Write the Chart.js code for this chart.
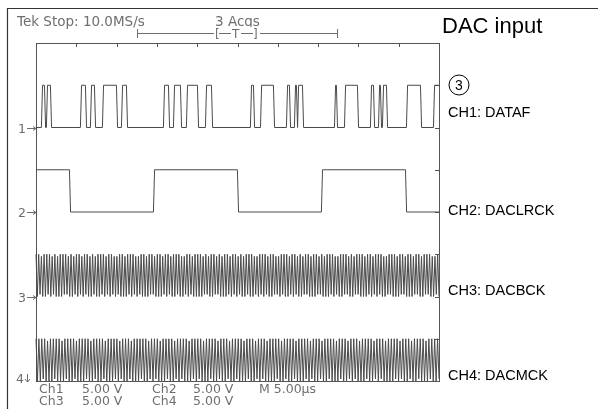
<!DOCTYPE html>
<html>
<head>
<meta charset="utf-8">
<script src="https://cdn.jsdelivr.net/npm/chart.js@4.4.1/dist/chart.umd.min.js"></script>
<style>
  html, body { margin: 0; padding: 0; background: #fff; }
  canvas { display: block; }
</style>
</head>
<body>
<canvas id="scope" width="598" height="409"></canvas>
<script>
// time axis: 10 divisions of 5 us, level axis: 8 divisions
const timeTicks = [0, 5, 10, 15, 20, 25, 30, 35, 40, 45, 50];
const levelTicks = [0, 1, 2, 3, 4, 5, 6, 7, 8];

const channelLabels = ['CH1: DATAF', 'CH2: DACLRCK', 'CH3: DACBCK', 'CH4: DACMCK'];
const channelBase = [6, 4, 2, 0]; // low level of each trace, in divisions

// CH1 edges (us), trace starts low
const ch1Edges = [0.74, 1.12, 1.36, 1.86, 5.58, 6.2, 6.82, 7.32, 8.31, 10.05, 10.67, 11.29,
  15.88, 16.5, 17.12, 17.99, 18.73, 20.1, 21.09, 21.84,
  26.67, 27.05, 27.92, 29.53, 31.14, 31.51, 32.13, 32.38, 32.51, 33.13,
  37.1, 37.34, 38.34, 39.95, 41.56, 41.94, 42.56, 42.8, 43.05, 43.55,
  46.03, 47.77, 49.38];
// CH2 edges (us), trace starts high
const ch2Edges = [4.22, 14.64, 25.06, 35.48, 45.91];

// CH3 / CH4 as shown on screen (aliased clocks), one digit per sample, 9 = top, 0 = bottom
const ch3Samples =
  '90 91 80 90 91 90 81 90 80 90 91 91 80 90 81 90 91 80 91 90 80 91 80 90 91 90 81 90 91 80 ' +
  '81 90 90 80 91 90 91 80 81 90 90 80 91 91 80 90 90 81 90 91 80 90 91 90 80 81 90 91 80 90 ' +
  '90 90 81 91 80 90 91 81 90 80 90 91 80 91 90 81 90 80 91 90 90 81 80 91 90 91 80 90 91 81 ' +
  '80 91 90 90 81 90 91 80 90 81 91 90 80 90 91 81 90 80 90 91 90 81 80 90 91 91 80 90 81 91 ' +
  '90 90 80 91 90 81 90 91 90 80 81 91 90 90 80 91 91 80 90 90 81 91 90 80 91 91 90 80 81 90';
const ch4Samples =
  '90 90 91 90 80 90 91 90 90 80 91 90 90 91 80 90 90 91 90 80 91 90 90 91 80 90 90 91 ' +
  '90 81 90 90 91 80 90 90 91 90 90 81 90 91 90 80 90 91 90 90 81 90 91 90 90 80 91 90 ' +
  '91 90 80 90 91 90 90 81 90 90 91 80 90 91 90 90 80 91 90 90 81 90 91 90 80 90 90 91 ' +
  '90 80 91 90 90 91 80 90 90 91 90 81 90 90 91 80 90 91 90 90 80 91 90 90 81 90 91 90 ' +
  '80 90 91 90 90 81 90 91 90 80 90 90 91 90 81 90 90 91 80 90 91 90 90 80 91 90 90 91';

const traceColor = '#4a4a4a';
const tekColor = '#6e6e6e';

function stepTrace(edges, startHigh, base) {
  let lvl = startHigh ? 1 : 0;
  const pts = [{ x: 0, y: base + lvl }];
  edges.forEach(t => {
    pts.push({ x: t - 0.07, y: base + lvl });
    lvl = 1 - lvl;
    pts.push({ x: t + 0.07, y: base + lvl });
  });
  pts.push({ x: 50, y: base + lvl });
  return pts;
}

function sampleTrace(str, base) {
  const s = str.replace(/\s/g, '');
  const step = 50 / (s.length - 1);
  return s.split('').map((c, i) => {
    const d = +c;
    const lvl = d >= 5 ? 1 - (9 - d) * 0.05 : d * 0.05;
    return { x: i * step, y: base + lvl };
  });
}

function traceSet(label, data) {
  return {
    label: label,
    data: data,
    borderColor: traceColor,
    borderWidth: 1,
    pointRadius: 0,
    tension: 0,
    fill: false,
    clip: 3
  };
}

const scopeDecor = {
  id: 'scopeDecor',
  beforeDatasetsDraw(chart) {
    const ctx = chart.ctx;
    const xs = chart.scales.x, ys = chart.scales.y;
    const a = chart.chartArea;
    ctx.save();
    ctx.strokeStyle = '#555';
    ctx.lineWidth = 1;
    ctx.strokeRect(Math.round(a.left) + 0.5, Math.round(a.top) + 0.5,
      Math.round(a.right - a.left), Math.round(a.bottom - a.top));
    // top ticks
    timeTicks.forEach(t => {
      const x = Math.round(xs.getPixelForValue(t)) + 0.5;
      ctx.beginPath(); ctx.moveTo(x, a.top); ctx.lineTo(x, a.top + 4); ctx.stroke();
    });
    // right ticks
    levelTicks.forEach(v => {
      const y = Math.round(ys.getPixelForValue(v)) + 0.5;
      ctx.beginPath(); ctx.moveTo(a.right - 4, y); ctx.lineTo(a.right, y); ctx.stroke();
    });
    ctx.restore();
  },
  afterDraw(chart) {
    const ctx = chart.ctx;
    const ys = chart.scales.y;
    const a = chart.chartArea;
    ctx.save();

    // outer photo frame
    ctx.strokeStyle = '#333';
    ctx.lineWidth = 1.2;
    ctx.beginPath();
    ctx.moveTo(7.5, 409); ctx.lineTo(7.5, 8.5); ctx.lineTo(598, 8.5);
    ctx.stroke();

    // scope header
    ctx.fillStyle = tekColor;
    ctx.font = '13.5px "DejaVu Sans"';
    ctx.textBaseline = 'alphabetic';
    ctx.fillText('Tek Stop: 10.0MS/s', 17, 26);
    ctx.fillText('3 Acqs', 215, 26);

    // trigger position bar
    ctx.strokeStyle = tekColor;
    ctx.lineWidth = 1;
    ctx.beginPath();
    ctx.moveTo(137, 33.5); ctx.lineTo(337, 33.5);
    ctx.moveTo(137.5, 29); ctx.lineTo(137.5, 38);
    ctx.moveTo(337.5, 29); ctx.lineTo(337.5, 38);
    ctx.stroke();
    ctx.fillStyle = '#fff';
    ctx.fillRect(214, 27, 46, 12);
    ctx.fillStyle = tekColor;
    ctx.font = '12px "DejaVu Sans"';
    ctx.fillText('[', 215, 38);
    ctx.fillText('T', 232, 38);
    ctx.fillText(']', 253, 38);
    ctx.beginPath();
    ctx.moveTo(219, 33.5); ctx.lineTo(231, 33.5);
    ctx.moveTo(241, 33.5); ctx.lineTo(253, 33.5);
    ctx.stroke();

    // channel ground markers
    ctx.font = '12.5px "DejaVu Sans"';
    ['1', '2', '3'].forEach((n, i) => {
      const y = Math.round(ys.getPixelForValue(channelBase[i])) + 0.5;
      ctx.fillText(n, 18, y + 4);
      ctx.beginPath();
      ctx.moveTo(27, y); ctx.lineTo(a.left, y);
      ctx.moveTo(a.left - 3, y - 2); ctx.lineTo(a.left, y); ctx.lineTo(a.left - 3, y + 2);
      ctx.stroke();
    });
    ctx.fillText('4', 16, 383);
    ctx.beginPath();
    ctx.moveTo(27.5, 374); ctx.lineTo(27.5, 382);
    ctx.moveTo(25, 379); ctx.lineTo(27.5, 382); ctx.lineTo(30, 379);
    ctx.stroke();

    // readout
    ctx.font = '12.5px "DejaVu Sans"';
    ctx.fillText('Ch1', 39, 393);
    ctx.fillText('5.00 V', 82, 393);
    ctx.fillText('Ch2', 152, 393);
    ctx.fillText('5.00 V', 193, 393);
    ctx.fillText('M 5.00\u00b5s', 259, 393);
    ctx.fillText('Ch3', 39, 405);
    ctx.fillText('5.00 V', 82, 405);
    ctx.fillText('Ch4', 152, 405);
    ctx.fillText('5.00 V', 193, 405);

    // annotations
    ctx.fillStyle = '#000';
    ctx.font = '22px "Liberation Sans"';
    ctx.fillText('DAC input', 442, 33);
    ctx.strokeStyle = '#000';
    ctx.beginPath();
    ctx.arc(459, 85, 10, 0, Math.PI * 2);
    ctx.stroke();
    ctx.font = '14px "Liberation Sans"';
    ctx.textAlign = 'center';
    ctx.fillText('3', 459, 90);
    ctx.textAlign = 'left';
    ctx.font = '14.5px "Liberation Sans"';
    const labelY = [117, 215, 295, 380];
    channelLabels.forEach((t, i) => ctx.fillText(t, 448, labelY[i]));

    ctx.restore();
  }
};

new Chart(document.getElementById('scope'), {
  type: 'line',
  data: {
    datasets: [
      traceSet(channelLabels[0], stepTrace(ch1Edges, false, channelBase[0])),
      traceSet(channelLabels[1], stepTrace(ch2Edges, true, channelBase[1])),
      traceSet(channelLabels[2], sampleTrace(ch3Samples, channelBase[2])),
      traceSet(channelLabels[3], sampleTrace(ch4Samples, channelBase[3]))
    ]
  },
  options: {
    responsive: false,
    animation: false,
    devicePixelRatio: 1,
    parsing: false,
    layout: { padding: { left: 36, right: 159, top: 43, bottom: 28 } },
    scales: {
      x: { type: 'linear', min: 0, max: 50, display: false },
      y: { type: 'linear', min: 0, max: 8, display: false }
    },
    plugins: {
      legend: { display: false },
      tooltip: { enabled: false },
      title: { display: false }
    }
  },
  plugins: [scopeDecor]
});
</script>
</body>
</html>
